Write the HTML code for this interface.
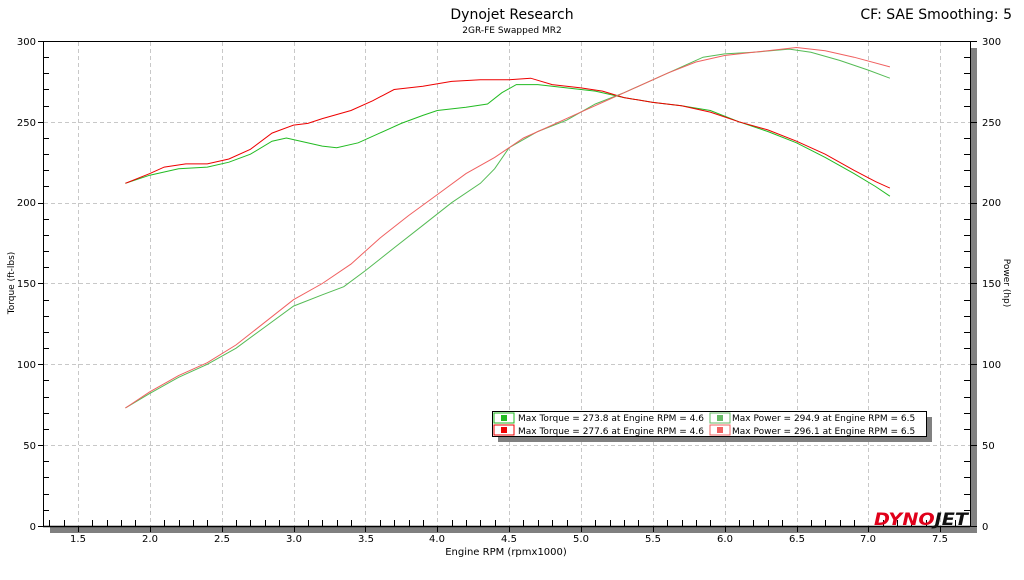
<!DOCTYPE html>
<html><head><meta charset="utf-8"><style>
body{margin:0;background:#fff;width:1024px;height:576px;overflow:hidden;font-family:"DejaVu Sans","Liberation Sans",sans-serif}
svg text{font-family:"DejaVu Sans","Liberation Sans",sans-serif}
</style></head><body>
<svg id="s" width="1024" height="576" xmlns="http://www.w3.org/2000/svg">
<rect x="970" y="48" width="7" height="485" fill="#808080"/>
<rect x="50" y="526" width="927" height="7" fill="#808080"/>
<g id="grid" stroke="#c8c8c8" stroke-dasharray="4,3" stroke-width="1"></g>
<g id="ticks" stroke="#000" stroke-width="1"></g>
<line x1="43" y1="41.5" x2="970" y2="41.5" stroke="#000"/>
<line x1="43.5" y1="41" x2="43.5" y2="526" stroke="#000"/>
<line x1="43" y1="526.5" x2="970" y2="526.5" stroke="#000" stroke-width="1.5"/>
<line x1="970.5" y1="41" x2="970.5" y2="527" stroke="#000"/>
<g font-size="10" fill="#000" text-anchor="end">
<text x="36" y="45">300</text><text x="36" y="126">250</text><text x="36" y="206">200</text><text x="36" y="287">150</text><text x="36" y="368">100</text><text x="36" y="449">50</text><text x="36" y="530">0</text>
</g>
<g font-size="10" fill="#000" text-anchor="start">
<text x="982" y="45">300</text><text x="982" y="126">250</text><text x="982" y="206">200</text><text x="982" y="287">150</text><text x="982" y="368">100</text><text x="982" y="449">50</text><text x="982" y="530">0</text>
</g>
<g font-size="10" fill="#000" text-anchor="middle">
<text x="78" y="542">1.5</text><text x="150" y="542">2.0</text><text x="222" y="542">2.5</text><text x="294" y="542">3.0</text><text x="366" y="542">3.5</text><text x="437" y="542">4.0</text><text x="509" y="542">4.5</text><text x="581" y="542">5.0</text><text x="653" y="542">5.5</text><text x="725" y="542">6.0</text><text x="797" y="542">6.5</text><text x="868" y="542">7.0</text><text x="940" y="542">7.5</text>
<text x="506" y="555" font-size="10">Engine RPM (rpmx1000)</text>
<text x="512" y="19" font-size="14">Dynojet Research</text>
<text x="512" y="33" font-size="9">2GR-FE Swapped MR2</text>
</g>
<text x="1012" y="19" font-size="14" text-anchor="end">CF: SAE Smoothing: 5</text>
<text transform="translate(14,283) rotate(-90)" font-size="9" text-anchor="middle">Torque (ft-lbs)</text>
<text transform="translate(1004,283) rotate(90)" font-size="9" text-anchor="middle">Power (hp)</text>
<g id="curves" fill="none" stroke-width="1"></g>
<rect x="498" y="417" width="434" height="25" fill="#808080"/>
<rect x="492.5" y="411.5" width="434" height="25" fill="#fff" stroke="#000"/>
<g font-size="9" fill="#000">
<rect x="494" y="413" width="20" height="10" fill="none" stroke="#22bb22"/><rect x="501" y="415" width="6" height="6" fill="#22bb22"/>
<text x="518" y="421">Max Torque = 273.8 at Engine RPM = 4.6</text>
<rect x="494" y="425" width="20" height="10" fill="none" stroke="#ee0000"/><rect x="501" y="427" width="6" height="6" fill="#ee0000"/>
<text x="518" y="434">Max Torque = 277.6 at Engine RPM = 4.6</text>
<rect x="710" y="413" width="20" height="10" fill="none" stroke="#66bb66"/><rect x="717" y="415" width="6" height="6" fill="#66bb66"/>
<text x="732" y="421">Max Power = 294.9 at Engine RPM = 6.5</text>
<rect x="710" y="425" width="20" height="10" fill="none" stroke="#f06060"/><rect x="717" y="427" width="6" height="6" fill="#f06060"/>
<text x="732" y="434">Max Power = 296.1 at Engine RPM = 6.5</text>
</g>
<text x="874" y="525" font-size="17" font-weight="bold" font-style="italic" font-family="Liberation Sans,sans-serif" textLength="94" lengthAdjust="spacingAndGlyphs"><tspan fill="#e0001a">DYNO</tspan><tspan fill="#111">JET</tspan></text>
</svg>
<script>
const X=r=>78+(r-1.5)*143.7, Y=v=>526-v*1.6167;
const g=document.getElementById('grid'),t=document.getElementById('ticks'),c=document.getElementById('curves');
const NS='http://www.w3.org/2000/svg';
function L(p,a){const e=document.createElementNS(NS,'line');for(const k in a)e.setAttribute(k,a[k]);p.appendChild(e);}
for(let r=1.5;r<7.6;r+=0.5)L(g,{x1:Math.round(X(r))+.5,x2:Math.round(X(r))+.5,y1:42,y2:526});
for(let v=50;v<300;v+=50)L(g,{x1:44,x2:970,y1:Math.round(Y(v))+.5,y2:Math.round(Y(v))+.5});
for(let i=13;i<=77;i++){const r=i/10,x=Math.round(X(r))+.5;if(x>968)continue;L(t,{x1:x,x2:x,y1:526,y2:i%5==0?532:520});}
for(let v=0;v<=300;v+=10){const y=Math.round(Y(v))+.5;
 if(v%50==0){L(t,{x1:38,x2:43,y1:y,y2:y});L(t,{x1:970,x2:977,y1:y,y2:y});}
 else{L(t,{x1:43,x2:49,y1:y,y2:y});L(t,{x1:964,x2:970,y1:y,y2:y});}}
const D={
'#22bb22':[[1.83,212],[2.0,217],[2.2,221],[2.4,222],[2.55,225],[2.7,230],[2.85,238],[2.95,240],[3.05,238],[3.2,235],[3.3,234],[3.45,237],[3.6,243],[3.75,249],[3.9,254],[4.0,257],[4.2,259],[4.35,261],[4.45,268],[4.55,273],[4.7,273],[4.9,271],[5.1,269],[5.3,265],[5.5,262],[5.7,260],[5.9,257],[6.1,250],[6.3,244],[6.5,237],[6.7,228],[6.9,218],[7.05,210],[7.15,204]],
'#ee0000':[[1.83,212],[2.0,218],[2.1,222],[2.25,224],[2.4,224],[2.55,227],[2.7,233],[2.85,243],[3.0,248],[3.1,249],[3.2,252],[3.4,257],[3.55,263],[3.7,270],[3.9,272],[4.1,275],[4.3,276],[4.5,276],[4.65,277],[4.8,273],[5.0,271],[5.15,269],[5.3,265],[5.5,262],[5.7,260],[5.9,256],[6.1,250],[6.3,245],[6.5,238],[6.7,230],[6.9,220],[7.05,213],[7.15,209]],
'#55bb55':[[1.83,73],[2.0,82],[2.2,92],[2.4,100],[2.6,110],[2.8,123],[3.0,136],[3.2,143],[3.35,148],[3.5,158],[3.7,172],[3.9,186],[4.1,200],[4.3,212],[4.4,221],[4.5,234],[4.7,244],[4.9,251],[5.1,261],[5.3,268],[5.5,276],[5.7,284],[5.85,290],[6.0,292],[6.2,293],[6.45,295],[6.6,293],[6.8,288],[7.0,282],[7.15,277]],
'#f06060':[[1.83,73],[2.0,83],[2.2,93],[2.4,101],[2.6,112],[2.8,126],[3.0,140],[3.2,150],[3.4,162],[3.6,178],[3.8,192],[4.0,205],[4.2,218],[4.4,228],[4.6,240],[4.8,248],[5.0,256],[5.2,264],[5.4,272],[5.6,280],[5.8,287],[6.0,291],[6.2,293],[6.5,296],[6.7,294],[6.9,290],[7.15,284]]};
for(const col in D){const e=document.createElementNS(NS,'path');
 e.setAttribute('d','M'+D[col].map(p=>X(p[0]).toFixed(1)+','+Y(p[1]).toFixed(1)).join(' L'));
 e.setAttribute('stroke',col);c.appendChild(e);}
</script>
</body></html>
